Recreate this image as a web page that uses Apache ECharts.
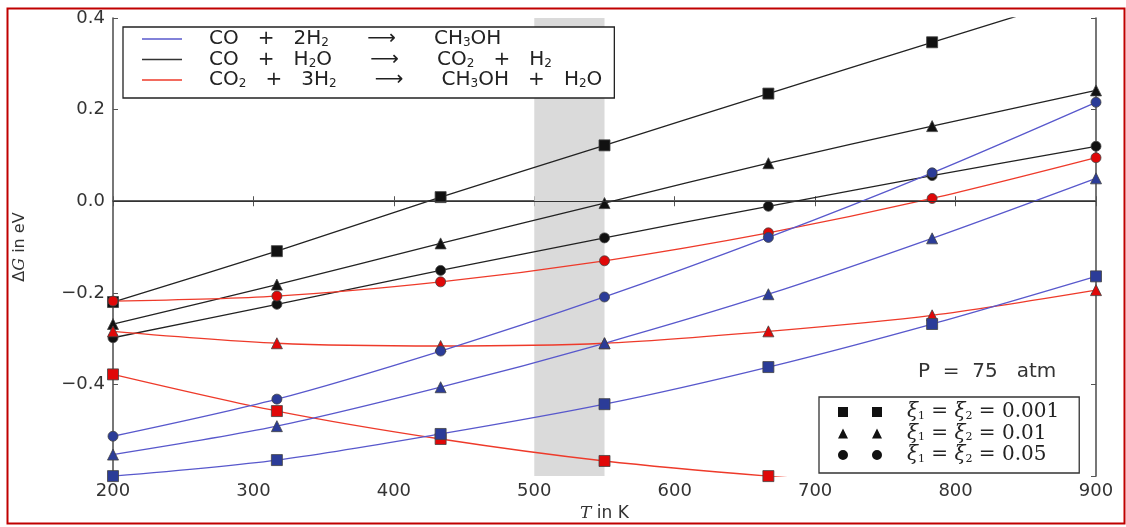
<!DOCTYPE html>
<html><head><meta charset="utf-8">
<script src="https://cdn.jsdelivr.net/npm/echarts@6/dist/echarts.min.js"></script>
<style>html,body{margin:0;padding:0;background:#fff}#c{width:1126px;height:527px}</style>
</head><body><div id="c"></div>
<script>
// Temperatures (K) at which the markers sit
const T = [200, 316.7, 433.3, 550, 666.7, 783.3, 900];
// CO + 2H2 -> CH3OH (blue)
const methCO_001 = [-0.600, -0.565, -0.508, -0.443, -0.362, -0.268, -0.164];
const methCO_01  = [-0.553, -0.491, -0.406, -0.310, -0.203, -0.081, 0.050];
const methCO_05  = [-0.513, -0.432, -0.327, -0.209, -0.079, 0.062, 0.216];
// CO + H2O -> CO2 + H2 (black)
const wgs_001 = [-0.220, -0.109, 0.009, 0.122, 0.235, 0.347, 0.457];
const wgs_01  = [-0.268, -0.182, -0.092, -0.004, 0.083, 0.164, 0.242];
const wgs_05  = [-0.298, -0.225, -0.151, -0.080, -0.011, 0.056, 0.120];
// CO2 + 3H2 -> CH3OH + H2O (red)
const methCO2_001 = [-0.378, -0.458, -0.519, -0.567, -0.600, -0.625, -0.640];
const methCO2_01  = [-0.284, -0.310, -0.316, -0.310, -0.284, -0.249, -0.194];
const methCO2_05  = [-0.218, -0.207, -0.176, -0.130, -0.069, 0.006, 0.095];
// axis settings
const xMin = 200, xMax = 900, xStep = 100;
const yMin = -0.6, yMax = 0.4, yStep = 0.2;
const band = [500, 550];
const pressureLabel = 'P  =  75   atm';

const BLUE_L = '#5858cc', BLUE_M = '#2b3c98';
const BLACK_L = '#222', BLACK_M = '#111';
const RED_L = '#ee3a2a', RED_M = '#e00808';

function mk(name, vals, lineColor, markColor, symbol) {
  return {
    type: 'line', name: name,
    data: T.map((t, i) => [t, vals[i]]),
    smooth: 0.3, clip: true, z: 3,
    symbol: symbol, symbolSize: symbol === 'circle' ? 10 : 11,
    lineStyle: { color: lineColor, width: 1.3 },
    itemStyle: { color: markColor, borderColor: '#444', borderWidth: 0.8 },
    emphasis: { disabled: true }, silent: true
  };
}
function dummy(name, color) {
  return { type: 'line', name: name, data: [], color: color,
           itemStyle: { color: color }, lineStyle: { color: color } };
}
const main = { fontSize: 20, fontFamily: 'DejaVu Sans', color: '#222', lineHeight: 20 };
const sub = { fontSize: 12, fontFamily: 'DejaVu Sans', color: '#222', verticalAlign: 'bottom', lineHeight: 12 };
const legendText = {
  r1: '{sp|}{a|CO   +   2H}{s|2}{a|      ⟶      CH}{s|3}{a|OH}',
  r2: '{sp|}{a|CO   +   H}{s|2}{a|O      ⟶      CO}{s|2}{a|   +   H}{s|2}',
  r3: '{sp|}{a|CO}{s|2}{a|   +   3H}{s|2}{a|      ⟶      CH}{s|3}{a|OH   +   H}{s|2}{a|O}'
};
const xiText = {
  x1: '{sp|}{g|ξ}{s|1}{e| = }{g|ξ}{s|2}{e| = 0.001}',
  x2: '{sp|}{g|ξ}{s|1}{e| = }{g|ξ}{s|2}{e| = 0.01}',
  x3: '{sp|}{g|ξ}{s|1}{e| = }{g|ξ}{s|2}{e| = 0.05}'
};
const lineIcon = 'path://M0,0H40V1.4H0Z';
const sqIcon = 'path://M0,0H10V10H0Z M34,0H44V10H34Z';
const triIcon = 'path://M5,0L10,10H0Z M39,0L44,10H34Z';
const cirIcon = 'path://M0,5A5,5 0 1,0 10,5A5,5 0 1,0 0,5Z M34,5A5,5 0 1,0 44,5A5,5 0 1,0 34,5Z';

const axisLine = { show: true, lineStyle: { color: '#555', width: 1.6 } };
const tick = { show: true, inside: true, length: 5, lineStyle: { color: '#555', width: 1 } };
const fmtY = v => Math.abs(v - yMin) < 1e-9 ? '' : (v < 0 ? '\u2212' : '') + Math.abs(v).toFixed(1);

const option = {
  animation: false,
  backgroundColor: '#fff',
  title: { text: pressureLabel, left: 913, top: 357,
           textStyle: { fontSize: 20, fontWeight: 'normal', fontFamily: 'DejaVu Sans', color: '#333' } },
  grid: { left: 113, right: 30, top: 18, bottom: 50 },
  xAxis: [
    { type: 'value', min: xMin, max: xMax, interval: xStep,
      axisLine: axisLine, axisTick: tick, splitLine: { show: false },
      axisLabel: { fontSize: 18, fontFamily: 'DejaVu Sans', color: '#333', margin: 6 },
      name: '{i|T}{a| in K}', nameLocation: 'middle', nameGap: 28,
      nameTextStyle: { rich: {
        i: { fontSize: 17, fontFamily: 'DejaVu Serif', fontStyle: 'italic', color: '#333' },
        a: { fontSize: 17, fontFamily: 'DejaVu Sans', color: '#333' } } } },
    { type: 'value', position: 'top', min: xMin, max: xMax, interval: xStep,
      axisLine: axisLine, axisTick: tick, axisLabel: { show: false }, splitLine: { show: false } }
  ],
  yAxis: [
    { type: 'value', min: yMin, max: yMax, interval: yStep,
      axisLine: axisLine, axisTick: tick, splitLine: { show: false },
      axisLabel: { fontSize: 18, fontFamily: 'DejaVu Sans', color: '#333', margin: 8, formatter: fmtY },
      name: '{a|Δ}{i|G}{a| in eV}', nameLocation: 'middle', nameGap: 85, nameRotate: 90,
      nameTextStyle: { rich: {
        i: { fontSize: 16, fontFamily: 'DejaVu Serif', fontStyle: 'italic', color: '#333' },
        a: { fontSize: 16, fontFamily: 'DejaVu Sans', color: '#333' } } } },
    { type: 'value', position: 'right', min: yMin, max: yMax, interval: yStep,
      axisLine: axisLine, axisTick: tick, axisLabel: { show: false }, splitLine: { show: false } }
  ],
  legend: [
    { orient: 'vertical', left: 123, top: 27, selectedMode: false,
      data: [{ name: 'r1', icon: lineIcon }, { name: 'r2', icon: lineIcon }, { name: 'r3', icon: lineIcon }],
      itemWidth: 40, itemHeight: 14, itemGap: 0.5, padding: [2, 12, 8, 19],
      borderColor: '#222', borderWidth: 1.3, backgroundColor: '#fff',
      formatter: n => legendText[n],
      textStyle: { rich: { a: main, s: sub, sp: { width: 22 } } } },
    { orient: 'vertical', left: 819, top: 397, selectedMode: false,
      data: [{ name: 'x1', icon: sqIcon }, { name: 'x2', icon: triIcon }, { name: 'x3', icon: cirIcon }],
      itemWidth: 44, itemHeight: 10, itemGap: 1.5, padding: [5, 20, 8, 19],
      borderColor: '#333', borderWidth: 1.3, backgroundColor: '#fff',
      formatter: n => xiText[n],
      textStyle: { rich: {
        sp: { width: 20 },
        g: { fontSize: 20, fontFamily: 'DejaVu Serif', fontStyle: 'italic', color: '#222', lineHeight: 19 },
        e: { fontSize: 20, fontFamily: 'DejaVu Serif', color: '#222', lineHeight: 19 },
        s: { fontSize: 11, fontFamily: 'DejaVu Serif', color: '#222', verticalAlign: 'bottom', lineHeight: 12 } } } }
  ],
  graphic: [
    { type: 'rect', left: 5, top: 6, shape: { width: 1117, height: 515 },
      style: { fill: 'none', stroke: '#c00000', lineWidth: 2 }, z: 100, silent: true }
  ],
  series: [
    { type: 'line', name: 'band', data: [], z: 1, silent: true,
      markArea: { silent: true, itemStyle: { color: '#dadada' },
                  data: [[{ xAxis: band[0] }, { xAxis: band[1] }]] },
      markLine: { silent: true, symbol: 'none', label: { show: false },
                  lineStyle: { color: '#333', width: 1, type: 'solid' }, data: [{ yAxis: 0 }] } },
    mk('wgs_001', wgs_001, BLACK_L, BLACK_M, 'rect'),
    mk('wgs_01', wgs_01, BLACK_L, BLACK_M, 'triangle'),
    mk('wgs_05', wgs_05, BLACK_L, BLACK_M, 'circle'),
    mk('methCO2_001', methCO2_001, RED_L, RED_M, 'rect'),
    mk('methCO2_01', methCO2_01, RED_L, RED_M, 'triangle'),
    mk('methCO2_05', methCO2_05, RED_L, RED_M, 'circle'),
    mk('methCO_001', methCO_001, BLUE_L, BLUE_M, 'rect'),
    mk('methCO_01', methCO_01, BLUE_L, BLUE_M, 'triangle'),
    mk('methCO_05', methCO_05, BLUE_L, BLUE_M, 'circle'),
    dummy('r1', BLUE_L), dummy('r2', '#333'), dummy('r3', RED_L),
    dummy('x1', '#111'), dummy('x2', '#111'), dummy('x3', '#111')
  ]
};
echarts.init(document.getElementById('c')).setOption(option);
</script></body></html>
